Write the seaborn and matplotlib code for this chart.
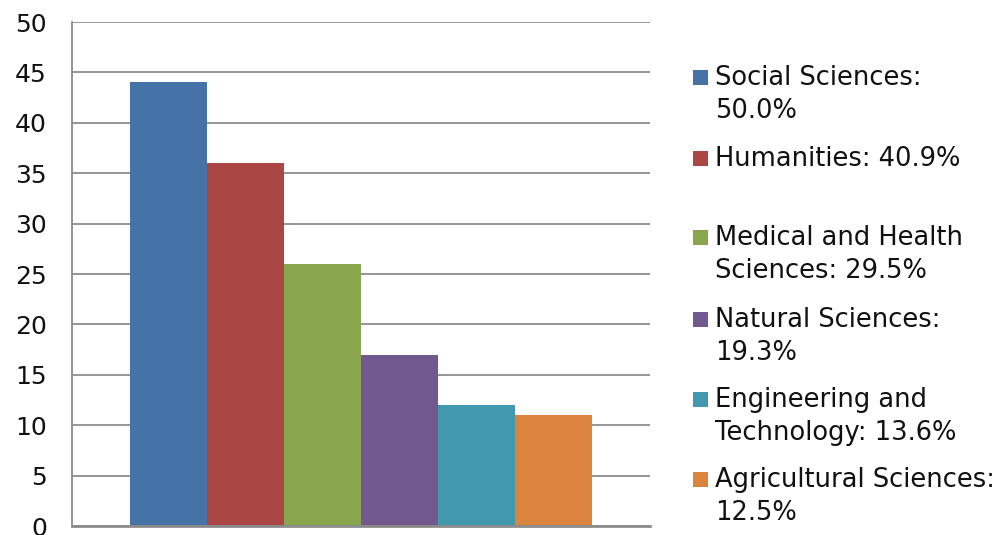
import matplotlib
matplotlib.use("Agg")
import matplotlib.pyplot as plt
from matplotlib.patches import Rectangle
import seaborn as sns
import pandas as pd

# Data
categories = ["Social Sciences", "Humanities", "Medical and Health Sciences",
              "Natural Sciences", "Engineering and Technology", "Agricultural Sciences"]
values = [44, 36, 26, 17, 12, 11]
legend_labels = ["Social Sciences:\n50.0%", "Humanities: 40.9%",
                 "Medical and Health\nSciences: 29.5%", "Natural Sciences:\n19.3%",
                 "Engineering and\nTechnology: 13.6%", "Agricultural Sciences:\n12.5%"]
colors = ["#4572A7", "#AA4643", "#89A54E", "#71588F", "#4198AF", "#DB843D"]
yticks = [0, 5, 10, 15, 20, 25, 30, 35, 40, 45, 50]

sns.set_theme(style="white")
plt.rcParams['font.family'] = ['DejaVu Sans']

W, H = 1006, 535
fig = plt.figure(figsize=(W / 100, H / 100), dpi=100)
ax = fig.add_axes([72 / W, (H - 526) / H, (650 - 72) / W, (526 - 22) / H])

df = pd.DataFrame({"group": [""] * len(values), "field": categories, "value": values})
sns.barplot(data=df, x="group", y="value", hue="field", hue_order=categories,
            palette=colors, width=0.8, linewidth=0, saturation=1, ax=ax, legend=False)

ax.set_ylim(0, 50)
ax.set_xlim(-0.5, 0.5)
ax.set_yticks(yticks)
ax.set_yticklabels([str(t) for t in yticks], fontsize=18, color="#111111")
ax.tick_params(axis="y", length=0, pad=18)
ax.tick_params(axis="x", length=0)
ax.set_xticklabels([])
ax.set_xlabel("")
ax.set_ylabel("")
ax.yaxis.grid(True, color="#8c8c8c", linewidth=1.3)
ax.set_axisbelow(True)
for s in ["top", "right"]:
    ax.spines[s].set_visible(False)
ax.spines["left"].set_color("#8c8c8c")
ax.spines["left"].set_linewidth(1.3)
ax.spines["bottom"].set_color("#8c8c8c")
ax.spines["bottom"].set_linewidth(2)

# Legend (manual, to match wrapped layout)
first_baselines = [85, 166, 245, 327, 407, 487]
line_gap = 33
for lab, col, yb in zip(legend_labels, colors, first_baselines):
    fig.add_artist(Rectangle((693 / W, (H - yb) / H), 15 / W, 15 / H,
                             transform=fig.transFigure, facecolor=col, edgecolor="none"))
    for k, line in enumerate(lab.split("\n")):
        fig.text(715 / W, (H - (yb + k * line_gap)) / H, line, fontsize=18.5,
                 color="#111111", ha="left", va="baseline")

fig.savefig("out.png", dpi=100)
